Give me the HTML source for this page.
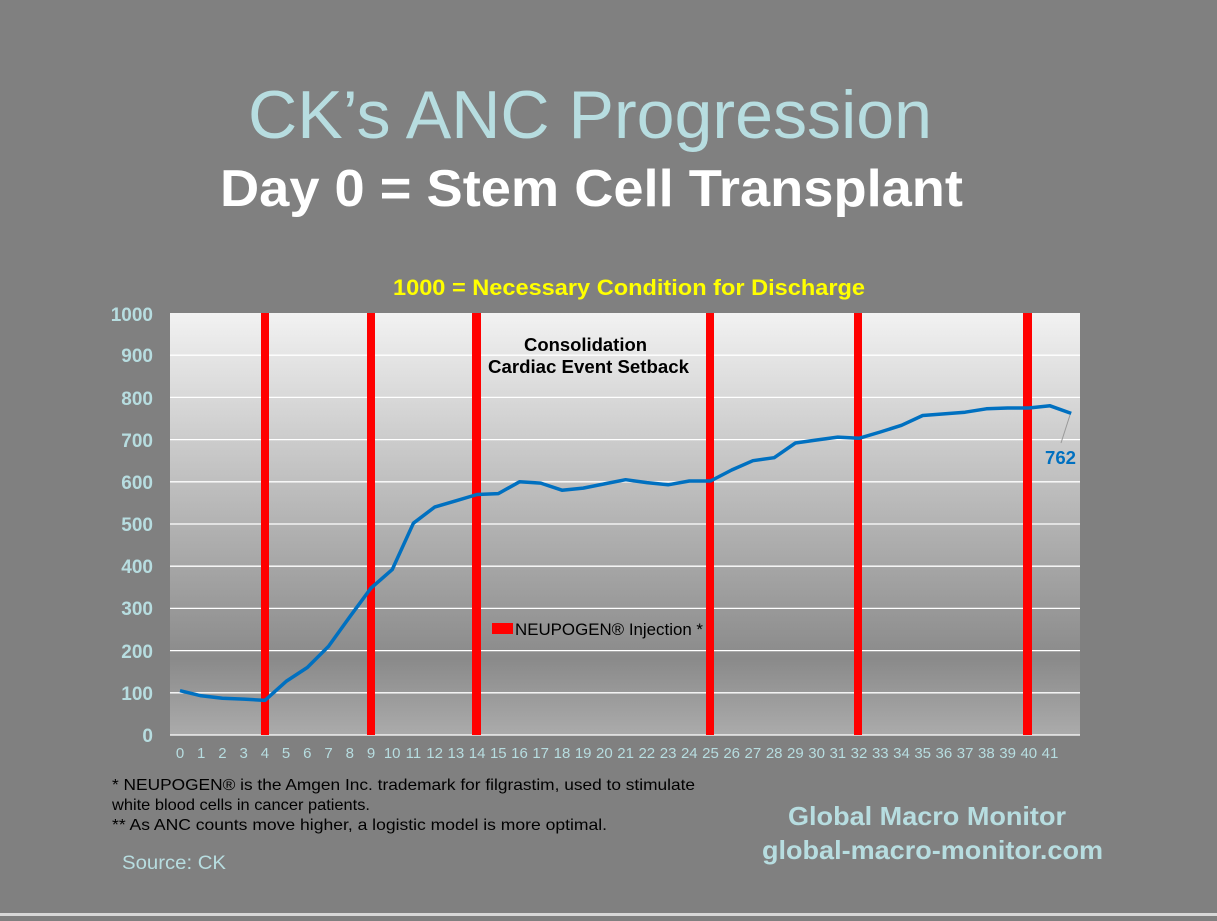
<!DOCTYPE html>
<html><head><meta charset="utf-8"><style>
html,body{margin:0;padding:0;background:#808080;}
body{width:1217px;height:916px;overflow:hidden;font-family:"Liberation Sans",Arial,sans-serif;}
</style></head><body>
<svg width="1217" height="916" viewBox="0 0 1217 916" xmlns="http://www.w3.org/2000/svg" font-family="Liberation Sans, Arial, sans-serif">
<defs>
<linearGradient id="bg" x1="0" y1="0" x2="0" y2="1">
<stop offset="0" stop-color="#f2f2f2"/>
<stop offset="0.82" stop-color="#8a8a8a"/>
<stop offset="1" stop-color="#ababab"/>
</linearGradient>
</defs>
<rect x="0" y="0" width="1217" height="916" fill="#808080"/>
<text x="248" y="138" font-size="68" fill="#b7dde0" textLength="684" lengthAdjust="spacingAndGlyphs">CK’s ANC Progression</text>
<text x="220" y="206" font-size="52" font-weight="bold" fill="#ffffff" textLength="743" lengthAdjust="spacingAndGlyphs">Day 0 = Stem Cell Transplant</text>
<text x="393" y="295" font-size="22" font-weight="bold" fill="#ffff00" textLength="472" lengthAdjust="spacingAndGlyphs">1000 = Necessary Condition for Discharge</text>
<rect x="170" y="313" width="910" height="422" fill="url(#bg)"/>
<g stroke="#ffffff" stroke-width="1.3">
<line x1="170" x2="1080" y1="692.8" y2="692.8"/><line x1="170" x2="1080" y1="650.6" y2="650.6"/>
<line x1="170" x2="1080" y1="608.4" y2="608.4"/><line x1="170" x2="1080" y1="566.2" y2="566.2"/>
<line x1="170" x2="1080" y1="524" y2="524"/><line x1="170" x2="1080" y1="481.8" y2="481.8"/>
<line x1="170" x2="1080" y1="439.6" y2="439.6"/><line x1="170" x2="1080" y1="397.4" y2="397.4"/>
<line x1="170" x2="1080" y1="355.2" y2="355.2"/><line x1="170" x2="1080" y1="735" y2="735"/>
</g>
<g font-size="19" font-weight="bold" fill="#b7dde0" text-anchor="end">
<text x="153" y="742">0</text><text x="153" y="700">100</text><text x="153" y="658">200</text>
<text x="153" y="615">300</text><text x="153" y="573">400</text><text x="153" y="531">500</text>
<text x="153" y="489">600</text><text x="153" y="447">700</text><text x="153" y="405">800</text>
<text x="153" y="362">900</text><text x="153" y="321">1000</text>
</g>
<g fill="#ff0000">
<rect x="261" y="313" width="8" height="422"/><rect x="367" y="313" width="8" height="422"/>
<rect x="472" y="313" width="9" height="422"/><rect x="706" y="313" width="8" height="422"/>
<rect x="854" y="313" width="8" height="422"/><rect x="1023" y="313" width="9" height="422"/>
</g>
<text x="524" y="351" font-size="18" font-weight="bold" fill="#000" textLength="123" lengthAdjust="spacingAndGlyphs">Consolidation</text>
<text x="488" y="373" font-size="18" font-weight="bold" fill="#000" textLength="201" lengthAdjust="spacingAndGlyphs">Cardiac Event Setback</text>
<rect x="492" y="623" width="21" height="11" fill="#ff0000"/>
<text x="515" y="635" font-size="17" fill="#000" textLength="188" lengthAdjust="spacingAndGlyphs">NEUPOGEN® Injection *</text>
<polyline fill="none" stroke="#0070c0" stroke-width="3.5" stroke-linejoin="round" points="180,690.7 201.2,695.8 222.4,698.3 243.7,699.1 264.9,700.4 286.1,681.4 307.3,667.5 328.5,646.4 349.8,616.8 371,588.1 392.2,569.6 413.4,523.2 434.6,507.1 455.9,500.8 477.1,494.5 498.3,493.6 519.5,481.8 540.7,483.1 562,490.2 583.2,488.1 604.4,483.9 625.6,479.7 646.8,482.6 668.1,484.8 689.3,481 710.5,481 731.7,470 752.9,460.7 774.2,457.7 795.4,443 816.6,440 837.8,437.1 859,438.3 880.3,432 901.5,425.3 922.7,415.5 943.9,413.9 965.1,412.2 986.4,408.8 1007.6,408 1028.8,408 1050,405.8 1071.2,413.4"/>
<line x1="1070" y1="415" x2="1061" y2="443" stroke="#999" stroke-width="1"/>
<text x="1045" y="464" font-size="18.5" font-weight="bold" fill="#0070c0" textLength="31" lengthAdjust="spacingAndGlyphs">762</text>
<g font-size="15" fill="#b7dde0" text-anchor="middle">
<text x="180" y="758">0</text><text x="201.2" y="758">1</text><text x="222.4" y="758">2</text><text x="243.7" y="758">3</text><text x="264.9" y="758">4</text><text x="286.1" y="758">5</text><text x="307.3" y="758">6</text><text x="328.5" y="758">7</text><text x="349.8" y="758">8</text><text x="371" y="758">9</text><text x="392.2" y="758">10</text><text x="413.4" y="758">11</text><text x="434.6" y="758">12</text><text x="455.9" y="758">13</text><text x="477.1" y="758">14</text><text x="498.3" y="758">15</text><text x="519.5" y="758">16</text><text x="540.7" y="758">17</text><text x="562" y="758">18</text><text x="583.2" y="758">19</text><text x="604.4" y="758">20</text><text x="625.6" y="758">21</text><text x="646.8" y="758">22</text><text x="668.1" y="758">23</text><text x="689.3" y="758">24</text><text x="710.5" y="758">25</text><text x="731.7" y="758">26</text><text x="752.9" y="758">27</text><text x="774.2" y="758">28</text><text x="795.4" y="758">29</text><text x="816.6" y="758">30</text><text x="837.8" y="758">31</text><text x="859" y="758">32</text><text x="880.3" y="758">33</text><text x="901.5" y="758">34</text><text x="922.7" y="758">35</text><text x="943.9" y="758">36</text><text x="965.1" y="758">37</text><text x="986.4" y="758">38</text><text x="1007.6" y="758">39</text><text x="1028.8" y="758">40</text><text x="1050" y="758">41</text>
</g>
<g font-size="16" fill="#000">
<text x="112" y="790" textLength="583" lengthAdjust="spacingAndGlyphs">* NEUPOGEN® is the Amgen Inc. trademark for filgrastim, used to stimulate</text>
<text x="112" y="810" textLength="258" lengthAdjust="spacingAndGlyphs">white blood cells in cancer patients.</text>
<text x="112" y="830" textLength="495" lengthAdjust="spacingAndGlyphs">** As ANC counts move higher, a logistic model is more optimal.</text>
</g>
<text x="122" y="869" font-size="19" fill="#b7dde0" textLength="104" lengthAdjust="spacingAndGlyphs">Source: CK</text>
<text x="788" y="825" font-size="26" font-weight="bold" fill="#b7dde0" textLength="278" lengthAdjust="spacingAndGlyphs">Global Macro Monitor</text>
<text x="762" y="859" font-size="26" font-weight="bold" fill="#b7dde0" textLength="341" lengthAdjust="spacingAndGlyphs">global-macro-monitor.com</text>
<rect x="0" y="913" width="1217" height="3" fill="#d8d8d8"/>
</svg>
</body></html>
